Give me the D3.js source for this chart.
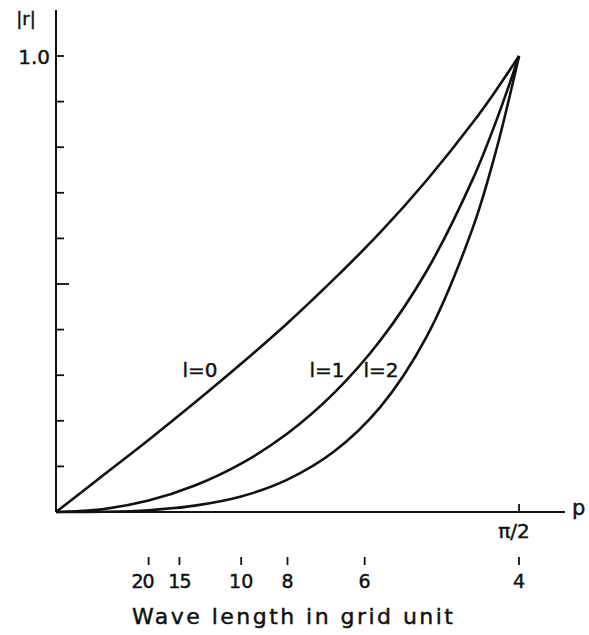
<!DOCTYPE html>
<html>
<head>
<meta charset="utf-8">
<script src="https://cdn.jsdelivr.net/npm/d3@7"></script>
<style>
  html, body { margin: 0; padding: 0; background: #fff; }
  svg text { font-family: "DejaVu Sans", sans-serif; fill: #111; stroke: #111; stroke-width: 0.45; }
</style>
</head>
<body>
<svg id="chart" width="589" height="635"></svg>
<script>
// Wavenumber p (radians), sampled from 0 to pi/2
const pValues = [0, 0.157, 0.314, 0.471, 0.628, 0.785, 0.942, 1.100, 1.257, 1.414, 1.492, 1.571];
// |r| for each order l
const rL0 = [0, 0.079, 0.158, 0.240, 0.325, 0.414, 0.510, 0.613, 0.727, 0.854, 0.924, 1.0];
const rL1 = [0, 0.006, 0.025, 0.058, 0.106, 0.172, 0.260, 0.376, 0.528, 0.730, 0.855, 1.0];
const rL2 = [0, 0.0005, 0.004, 0.014, 0.034, 0.071, 0.132, 0.230, 0.384, 0.623, 0.790, 1.0];
const seriesLabels = ["l=0", "l=1", "l=2"];
// Secondary axis: wave length in grid units
const waveLengths = [20, 15, 10, 8, 6, 4];
const yTicks = [0.1, 0.2, 0.3, 0.4, 0.5, 0.6, 0.7, 0.8, 0.9, 1.0];

const svg = d3.select("#chart");
const x = d3.scaleLinear().domain([0, Math.PI / 2]).range([56, 519]);
const y = d3.scaleLinear().domain([0, 1]).range([512, 56]);

// Axes lines
svg.append("line").attr("x1", 56).attr("x2", 56).attr("y1", 10).attr("y2", y(0))
  .attr("stroke", "#111").attr("stroke-width", 2);
svg.append("line").attr("x1", 56).attr("x2", 565).attr("y1", y(0)).attr("y2", y(0))
  .attr("stroke", "#111").attr("stroke-width", 2);

// Y ticks (inside, pointing right)
svg.selectAll(".ytick").data(yTicks).enter().append("line")
  .attr("x1", 56).attr("x2", d => Math.abs(d - 0.5) < 1e-9 ? 69 : 64)
  .attr("y1", d => y(d)).attr("y2", d => y(d))
  .attr("stroke", "#111").attr("stroke-width", 1.8);

svg.append("text").attr("x", 50).attr("y", y(1) + 8).attr("text-anchor", "end")
  .attr("font-size", 20).text("1.0");
svg.append("text").attr("x", 26).attr("y", 25).attr("text-anchor", "middle")
  .attr("font-size", 18).text("|r|");

// pi/2 tick on the p axis
svg.append("line").attr("x1", x(Math.PI / 2)).attr("x2", x(Math.PI / 2))
  .attr("y1", y(0) - 8).attr("y2", y(0)).attr("stroke", "#111").attr("stroke-width", 1.8);
svg.append("text").attr("x", x(Math.PI / 2) - 5).attr("y", 538).attr("text-anchor", "middle")
  .attr("font-size", 20).text("π/2");
svg.append("text").attr("x", 572).attr("y", 515).attr("font-size", 21).text("p");

// Curves
const line = d3.line().x(d => x(d[0])).y(d => y(d[1])).curve(d3.curveCatmullRom.alpha(0.5));
[rL0, rL1, rL2].forEach(vals => {
  svg.append("path").datum(pValues.map((p, i) => [p, vals[i]]))
    .attr("d", line).attr("fill", "none").attr("stroke", "#111").attr("stroke-width", 2.6);
});

// Curve labels
const labelPos = [[200, 377], [327, 377], [381, 377]];
seriesLabels.forEach((t, i) => {
  svg.append("text").attr("x", labelPos[i][0]).attr("y", labelPos[i][1])
    .attr("text-anchor", "middle").attr("font-size", 20).text(t);
});

// Wave length scale: p = 2*pi / L
const wl = svg.append("g");
wl.selectAll("line").data(waveLengths).enter().append("line")
  .attr("x1", d => x(2 * Math.PI / d)).attr("x2", d => x(2 * Math.PI / d))
  .attr("y1", 557).attr("y2", 565).attr("stroke", "#111").attr("stroke-width", 1.8);
wl.selectAll("text").data(waveLengths).enter().append("text")
  .attr("x", d => x(2 * Math.PI / d) + (d === 20 ? -6 : d === 15 ? 0 : 0))
  .attr("y", 588).attr("text-anchor", "middle").attr("font-size", 19)
  .attr("letter-spacing", d => d === 20 || d === 15 ? -1 : 0)
  .text(d => d);

svg.append("text").attr("x", 132).attr("y", 624).attr("font-size", 22)
  .attr("textLength", 321).attr("lengthAdjust", "spacing")
  .text("Wave length in grid unit");
</script>
</body>
</html>
